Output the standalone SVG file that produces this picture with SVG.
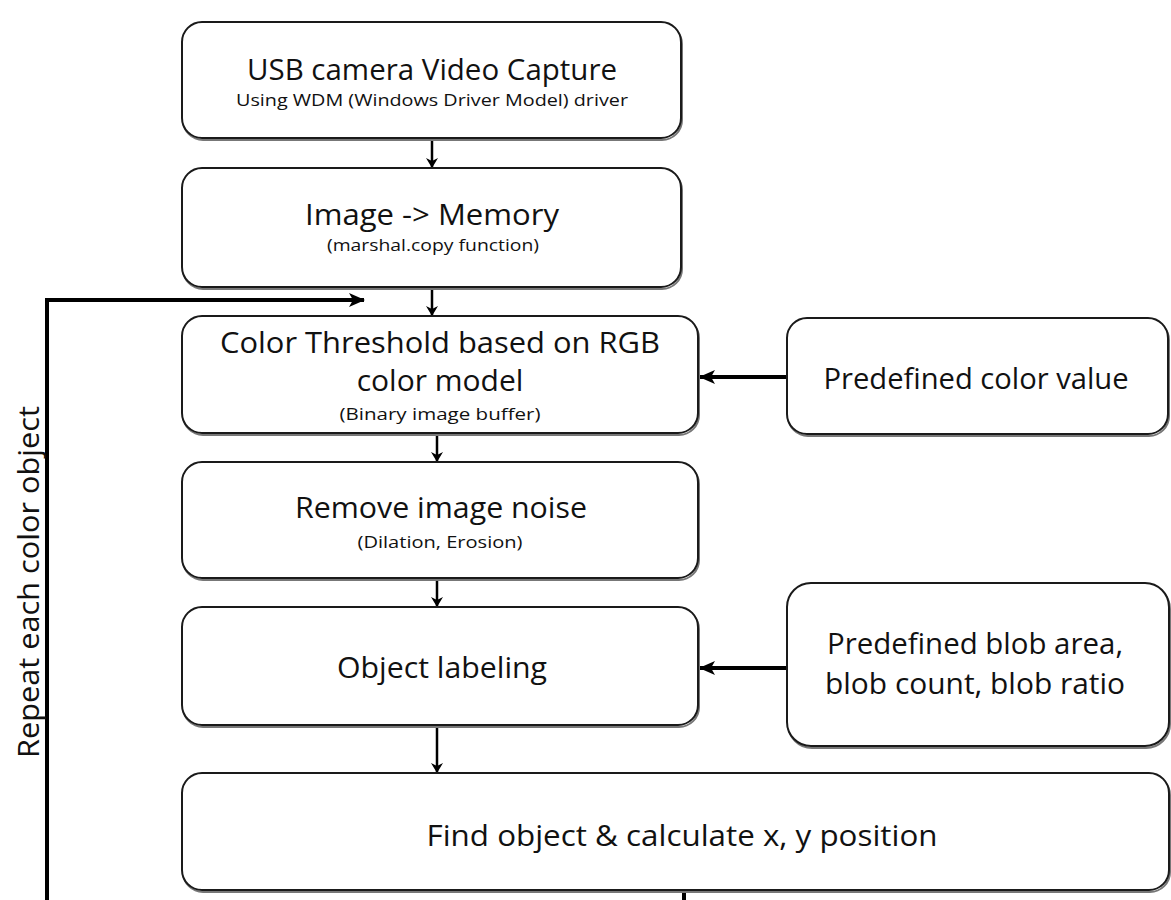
<svg xmlns="http://www.w3.org/2000/svg" width="1171" height="900" viewBox="0 0 1171 900">
<style>
.box{fill:#fff;stroke:#1a1a1a;stroke-width:2}
.sh{fill:none;stroke:#777;stroke-width:2}
.t{font-family:"Open Sans","Noto Sans",sans-serif;fill:#111;text-anchor:middle}
.big{font-size:30px}
.small{font-size:17px}
.ln{stroke:#000;stroke-width:2.5;fill:none}
.thick{stroke:#000;stroke-width:4;fill:none}
</style>
<defs>
<marker id="ah" markerWidth="10" markerHeight="12" refX="9" refY="6" orient="auto" markerUnits="userSpaceOnUse">
<path d="M0,0 L10,6 L0,12 L3,6 Z" fill="#000"/>
</marker>
<marker id="ahb" markerWidth="16" markerHeight="16" refX="15" refY="8" orient="auto" markerUnits="userSpaceOnUse">
<path d="M0,1 L16,8 L0,15 L4,8 Z" fill="#000"/>
</marker>
</defs>
<rect width="1171" height="900" fill="#fff"/>
<g id="connectors">
<line class="ln" x1="432" y1="138" x2="432" y2="167" marker-end="url(#ah)"/>
<line class="ln" x1="432" y1="287" x2="432" y2="315" marker-end="url(#ah)"/>
<line class="ln" x1="437" y1="433" x2="437" y2="461" marker-end="url(#ah)"/>
<line class="ln" x1="437" y1="578" x2="437" y2="606" marker-end="url(#ah)"/>
<line class="ln" x1="437" y1="725" x2="437" y2="772" marker-end="url(#ah)"/>
<line class="thick" x1="787" y1="377" x2="700" y2="377" marker-end="url(#ahb)"/>
<line class="thick" x1="787" y1="668" x2="700" y2="668" marker-end="url(#ahb)"/>
<polyline class="thick" points="47,900 47,300 364,300" marker-end="url(#ahb)"/>
<line class="thick" x1="684" y1="890" x2="684" y2="900"/>
</g>
<g id="n1">
<rect class="sh" x="183" y="24" width="499" height="116" rx="20"/>
<rect class="box" x="182" y="22" width="499" height="116" rx="20"/>
<text class="t big" x="432" y="80" textLength="370" lengthAdjust="spacingAndGlyphs">USB camera Video Capture</text>
<text class="t small" x="432" y="106" textLength="392" lengthAdjust="spacingAndGlyphs">Using WDM (Windows Driver Model) driver</text>
</g>
<g id="n2">
<rect class="sh" x="183" y="170" width="499" height="119" rx="20"/>
<rect class="box" x="182" y="168" width="499" height="119" rx="20"/>
<text class="t big" x="432" y="225" textLength="254" lengthAdjust="spacingAndGlyphs">Image -&gt; Memory</text>
<text class="t small" x="433" y="251" textLength="212" lengthAdjust="spacingAndGlyphs">(marshal.copy function)</text>
</g>
<g id="n3">
<rect class="sh" x="183" y="318" width="516" height="117" rx="20"/>
<rect class="box" x="182" y="316" width="516" height="117" rx="20"/>
<text class="t big" x="440" y="353" textLength="440" lengthAdjust="spacingAndGlyphs">Color Threshold based on RGB</text>
<text class="t big" x="440" y="391">color model</text>
<text class="t small" x="440" y="420" textLength="201" lengthAdjust="spacingAndGlyphs">(Binary image buffer)</text>
</g>
<g id="n4">
<rect class="sh" x="788" y="320" width="381" height="116" rx="20"/>
<rect class="box" x="787" y="318" width="381" height="116" rx="20"/>
<text class="t big" x="976" y="389" textLength="305" lengthAdjust="spacingAndGlyphs">Predefined color value</text>
</g>
<g id="n5">
<rect class="sh" x="183" y="464" width="516" height="116" rx="20"/>
<rect class="box" x="182" y="462" width="516" height="116" rx="20"/>
<text class="t big" x="441" y="518" textLength="292" lengthAdjust="spacingAndGlyphs">Remove image noise</text>
<text class="t small" x="440" y="548" textLength="165" lengthAdjust="spacingAndGlyphs">(Dilation, Erosion)</text>
</g>
<g id="n6">
<rect class="sh" x="183" y="609" width="516" height="118" rx="20"/>
<rect class="box" x="182" y="607" width="516" height="118" rx="20"/>
<text class="t big" x="442" y="678" textLength="210" lengthAdjust="spacingAndGlyphs">Object labeling</text>
</g>
<g id="n7">
<rect class="sh" x="788" y="585" width="382" height="163" rx="24"/>
<rect class="box" x="787" y="583" width="382" height="163" rx="24"/>
<text class="t big" x="975" y="654" textLength="296" lengthAdjust="spacingAndGlyphs">Predefined blob area,</text>
<text class="t big" x="975" y="694" textLength="300" lengthAdjust="spacingAndGlyphs">blob count, blob ratio</text>
</g>
<g id="n8">
<rect class="sh" x="183" y="775" width="987" height="117" rx="20"/>
<rect class="box" x="182" y="773" width="987" height="117" rx="20"/>
<text class="t big" x="682" y="846" textLength="511" lengthAdjust="spacingAndGlyphs">Find object &amp; calculate x, y position</text>
</g>
<text class="t big" transform="translate(39,582) rotate(-90)" textLength="352" lengthAdjust="spacingAndGlyphs">Repeat each color object</text>
</svg>
